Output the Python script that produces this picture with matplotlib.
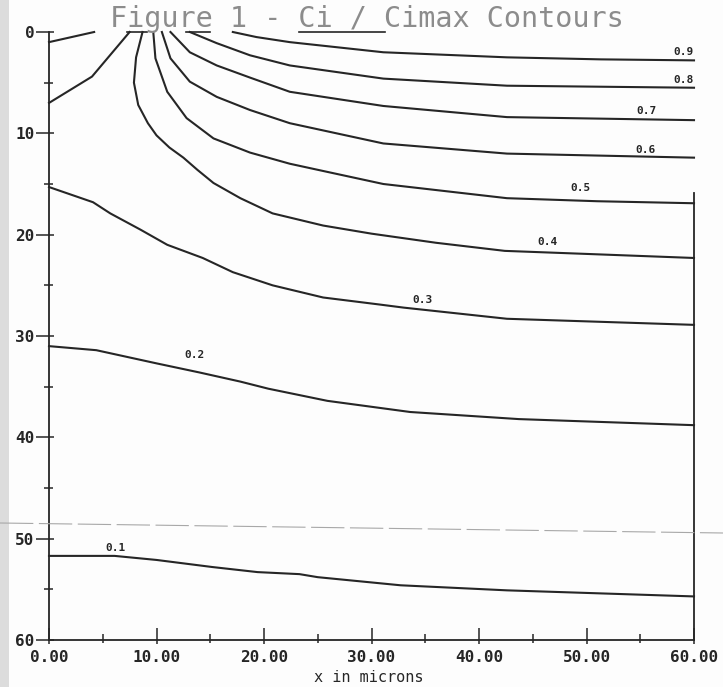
import matplotlib
matplotlib.use("Agg")
import matplotlib.pyplot as plt
from matplotlib.lines import Line2D
from matplotlib.patches import Rectangle
from matplotlib.ticker import MultipleLocator, FixedLocator

# ---------------- data ----------------
title = "Figure 1 - Ci / Cimax Contours"
x_label = "x in microns"

x_ticks = [0, 10, 20, 30, 40, 50, 60]
x_tick_labels = ["0.00", "10.00", "20.00", "30.00", "40.00", "50.00", "60.00"]
y_ticks = [0, 10, 20, 30, 40, 50, 60]
y_tick_labels = ["0", "10", "20", "30", "40", "50", "60"]

level_labels = ["0.9", "0.8", "0.7", "0.6", "0.5", "0.4", "0.3", "0.2", "0.1"]

c09_x = [17.1, 19.3, 22.4, 31.1, 42.6, 51.3, 60.0]
c09_y = [0.0, 0.5, 1.0, 2.0, 2.5, 2.7, 2.8]

c08_x = [13.1, 15.6, 18.7, 22.4, 31.1, 42.6, 60.0]
c08_y = [0.0, 1.1, 2.3, 3.3, 4.6, 5.3, 5.5]

c07_x = [11.3, 13.1, 15.6, 18.7, 22.4, 31.1, 42.6, 60.0]
c07_y = [0.0, 2.0, 3.3, 4.5, 5.9, 7.3, 8.4, 8.7]

c06_x = [10.5, 11.3, 13.1, 15.6, 18.7, 22.4, 31.1, 42.6, 60.0]
c06_y = [0.0, 2.6, 4.9, 6.4, 7.7, 9.0, 11.0, 12.0, 12.4]

c05_x = [9.7, 9.9, 11.0, 12.8, 15.3, 18.7, 22.4, 25.0, 31.1, 42.6, 51.0, 60.0]
c05_y = [0.0, 2.6, 5.9, 8.5, 10.5, 11.9, 13.0, 13.6, 15.0, 16.4, 16.7, 16.9]

c04_x = [8.7, 8.1, 7.9, 8.3, 9.2, 10.0, 11.2, 12.5, 13.8, 15.3, 17.8, 20.8,
         25.5, 30.0, 36.0, 42.4, 50.0, 60.0]
c04_y = [0.0, 2.5, 5.0, 7.2, 9.0, 10.2, 11.4, 12.4, 13.6, 14.9, 16.4, 17.9,
         19.1, 19.9, 20.8, 21.6, 21.9, 22.3]

c03_x = [0.0, 4.1, 5.7, 8.5, 11.0, 14.3, 17.1, 20.8, 25.5, 30.8, 33.0, 42.6, 60.0]
c03_y = [15.3, 16.8, 17.9, 19.5, 21.0, 22.3, 23.7, 25.0, 26.2, 26.9, 27.2, 28.3, 28.9]

c02_x = [0.0, 4.4, 10.0, 14.0, 17.8, 20.4, 25.9, 33.6, 43.7, 60.0]
c02_y = [31.0, 31.4, 32.7, 33.6, 34.5, 35.2, 36.4, 37.5, 38.2, 38.8]

c01_x = [0.0, 6.1, 10.0, 15.2, 19.4, 23.3, 25.0, 32.7, 42.6, 60.0]
c01_y = [51.7, 51.7, 52.1, 52.8, 53.3, 53.5, 53.8, 54.6, 55.1, 55.7]

# unlabelled pieces near the surface on the left
edge_a_x = [0.0, 4.2]
edge_a_y = [1.0, 0.0]
edge_b_x = [0.0, 4.0, 7.5]
edge_b_y = [7.0, 4.4, 0.0]

label_x = [59.0, 59.0, 55.6, 55.5, 49.4, 46.4, 34.7, 13.5, 6.2]
label_y = [2.0, 4.7, 7.8, 11.6, 15.4, 20.7, 26.4, 31.9, 50.9]

# visible pieces of the top border (x ranges) and top of right border
top_frag_start = [7.3, 12.7, 23.3]
top_frag_end = [9.1, 15.0, 31.3]
right_edge_top = 15.9

# ---------------- figure ----------------
W, H = 723, 687
fig = plt.figure(figsize=(W / 100, H / 100), dpi=100)
fig.patch.set_facecolor("#fdfdfd")

# scan artefacts: grey strip on the left and a faint horizontal line
fig.patches.append(Rectangle((0, 0), 9 / W, 1, transform=fig.transFigure,
                             facecolor="#dcdcdc", edgecolor="none", zorder=0))
fig.add_artist(Line2D([0, 1], [1 - 523 / H, 1 - 533 / H], transform=fig.transFigure,
                      color="#a8a8a8", lw=0.8, linestyle=(0, (30, 5))))

rect = [49 / W, 1 - 640 / H, (694 - 49) / W, (640 - 32) / H]
ax = fig.add_axes(rect)
ax.set_facecolor("none")
ax.set_xlim(0, 60)
ax.set_ylim(60, 0)

ink = "#262626"
lw = 1.5

for s in ["top", "right"]:
    ax.spines[s].set_visible(False)
for s in ["left", "bottom"]:
    ax.spines[s].set_color(ink)
    ax.spines[s].set_linewidth(1.3)

tick_font = dict(family="DejaVu Sans Mono", weight="bold", size=11.5)

ax.xaxis.set_major_locator(FixedLocator(x_ticks))
ax.xaxis.set_minor_locator(MultipleLocator(5))
ax.yaxis.set_major_locator(FixedLocator(y_ticks))
ax.yaxis.set_minor_locator(MultipleLocator(5))
ax.set_xticklabels(x_tick_labels, **tick_font, color=ink)
ax.set_yticklabels(y_tick_labels, **tick_font, color=ink)

ax.tick_params(axis="y", which="major", direction="out", length=9.4, width=1.1, color=ink, pad=1)
ax.tick_params(axis="y", which="minor", direction="out", length=3.6, width=1.1, color=ink)
ax.tick_params(axis="x", which="major", direction="out", length=2.9, width=1.1, color=ink, pad=4)
ax.tick_params(axis="x", which="minor", direction="out", length=2.2, width=1.1, color=ink)

# overlay axes for the inward part of the ticks
ax_in = fig.add_axes(rect, frameon=False)
ax_in.set_xlim(0, 60)
ax_in.set_ylim(60, 0)
ax_in.patch.set_visible(False)
ax_in.xaxis.set_major_locator(FixedLocator(x_ticks))
ax_in.xaxis.set_minor_locator(MultipleLocator(5))
ax_in.yaxis.set_major_locator(FixedLocator(y_ticks))
ax_in.yaxis.set_minor_locator(MultipleLocator(5))
ax_in.tick_params(axis="both", which="both", labelbottom=False, labelleft=False, color=ink, width=1.1)
ax_in.tick_params(axis="y", which="major", direction="in", length=3.6)
ax_in.tick_params(axis="y", which="minor", direction="in", length=2.9)
ax_in.tick_params(axis="x", which="major", direction="in", length=8.6)
ax_in.tick_params(axis="x", which="minor", direction="in", length=4.3)

# right border (partial) and top border fragments
ax.plot([60, 60], [right_edge_top, 60], color=ink, lw=1.3, clip_on=False)
for xs, xe in zip(top_frag_start, top_frag_end):
    ax.plot([xs, xe], [0, 0], color=ink, lw=1.2, clip_on=False)

contours_x = [c09_x, c08_x, c07_x, c06_x, c05_x, c04_x, c03_x, c02_x, c01_x]
contours_y = [c09_y, c08_y, c07_y, c06_y, c05_y, c04_y, c03_y, c02_y, c01_y]
for cx, cy in zip(contours_x, contours_y):
    ax.plot(cx, cy, color=ink, lw=lw, solid_joinstyle="round", clip_on=False)
ax.plot(edge_a_x, edge_a_y, color=ink, lw=lw, clip_on=False)
ax.plot(edge_b_x, edge_b_y, color=ink, lw=lw, clip_on=False)

for lx, ly, lt in zip(label_x, label_y, level_labels):
    ax.text(lx, ly, lt, ha="center", va="center", family="DejaVu Sans Mono",
            weight="bold", size=8, color=ink)

fig.text(367 / W, 1 - 19 / H, title, ha="center", va="center",
         family="DejaVu Sans Mono", size=20.5, color="#8c8c8c")
fig.text(369 / W, 1 - 677 / H, x_label, ha="center", va="center",
         family="DejaVu Sans Mono", size=11, color=ink)

fig.savefig("out.png", dpi=100, facecolor=fig.get_facecolor())
